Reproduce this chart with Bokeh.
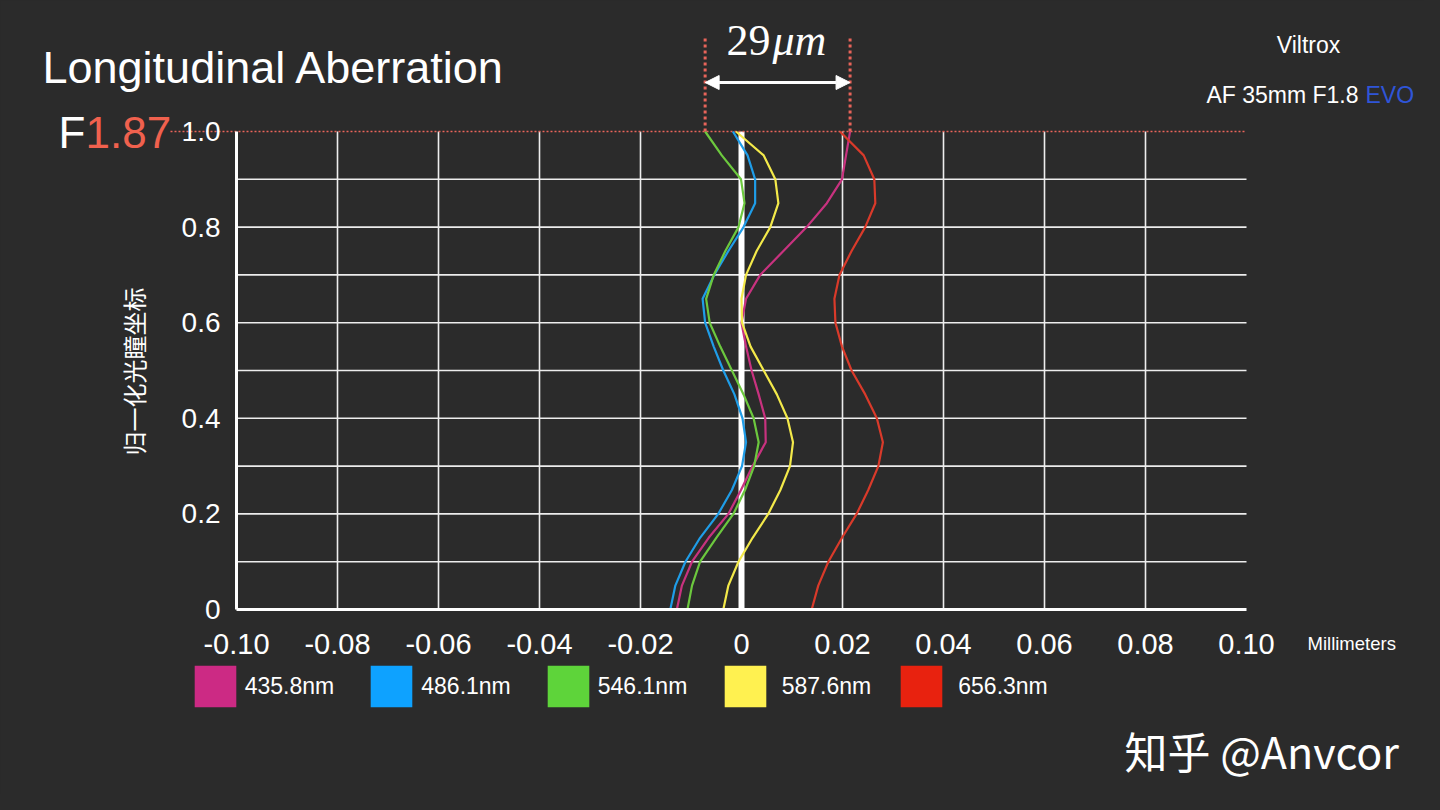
from bokeh.plotting import figure
from bokeh.models import (Range1d, FixedTicker, Label, Arrow, NormalHead,
                          Legend, LegendItem)
from bokeh.embed import file_html
from bokeh.resources import INLINE

# ---------------- data ----------------
pupil = [0.0, 0.05, 0.1, 0.15, 0.2, 0.25, 0.3, 0.35, 0.4, 0.45, 0.5,
         0.55, 0.6, 0.65, 0.7, 0.75, 0.8, 0.85, 0.9, 0.95, 1.0]

wavelengths = ["435.8nm", "486.1nm", "546.1nm", "587.6nm", "656.3nm"]

ab_435 = [-0.0128, -0.0118, -0.0098, -0.0065, -0.0026, -0.0001, 0.0022, 0.0048,
          0.0047, 0.0034, 0.0020, 0.0009, 0.0000, 0.0009, 0.0037, 0.0083,
          0.0129, 0.0169, 0.0199, 0.0207, 0.0215]
ab_486 = [-0.0141, -0.0131, -0.0111, -0.0082, -0.0046, -0.0019, 0.0001, 0.0009,
          0.0002, -0.0014, -0.0036, -0.0055, -0.0072, -0.0077, -0.0054, -0.0026,
          0.0004, 0.0027, 0.0027, 0.0012, -0.0017]
ab_546 = [-0.0107, -0.0098, -0.0082, -0.0050, -0.0016, 0.0007, 0.0025, 0.0034,
          0.0024, 0.0004, -0.0019, -0.0042, -0.0063, -0.0070, -0.0055, -0.0032,
          -0.0006, 0.0006, -0.0001, -0.0039, -0.0072]
ab_587 = [-0.0036, -0.0026, -0.0006, 0.0022, 0.0053, 0.0077, 0.0096, 0.0102,
          0.0091, 0.0070, 0.0044, 0.0018, 0.0001, 0.0000, 0.0009, 0.0030,
          0.0057, 0.0073, 0.0067, 0.0044, -0.0011]
ab_656 = [0.0139, 0.0152, 0.0172, 0.0199, 0.0228, 0.0251, 0.0271, 0.0280,
          0.0268, 0.0245, 0.0218, 0.0199, 0.0186, 0.0184, 0.0194, 0.0218,
          0.0245, 0.0265, 0.0263, 0.0242, 0.0195]

series = [ab_435, ab_486, ab_546, ab_587, ab_656]
line_colors = ["#c8327f", "#1f9de8", "#6cc83e", "#f3e94a", "#d93a2a"]
swatch_colors = ["#cc2a84", "#0ea2ff", "#5ed43a", "#fff150", "#e8220f"]

x_ticks = [-0.1, -0.08, -0.06, -0.04, -0.02, 0.0, 0.02, 0.04, 0.06, 0.08, 0.1]
x_tick_labels = ["-0.10", "-0.08", "-0.06", "-0.04", "-0.02", "0",
                 "0.02", "0.04", "0.06", "0.08", "0.10"]
y_ticks = [0.0, 0.2, 0.4, 0.6, 0.8, 1.0]
y_tick_labels = ["0", "0.2", "0.4", "0.6", "0.8", "1.0"]
x_grid = [-0.08, -0.06, -0.04, -0.02, 0.02, 0.04, 0.06, 0.08]
y_grid = [0.1, 0.2, 0.3, 0.4, 0.5, 0.6, 0.7, 0.8, 0.9]

spread_text = "29"
spread_unit = "μm"
f_number = "1.87"

# ---------------- layout / styling ----------------
BG = "#2b2b2b"
DOT = "#e8645a"
SANS = "Liberation Sans"
NAN = float("nan")

W, H = 1424, 794
PL, PR, PT, PB = 236, 1246, 131, 609        # plot area in canvas pixels
X0, X1 = x_ticks[0], x_ticks[-1]
Y0, Y1 = y_ticks[0], y_ticks[-1]
xs = (X1 - X0) / (PR - PL)
ys = (Y1 - Y0) / (PB - PT)


def dx(px):
    return X0 + (px - PL) * xs


def dy(py):
    return Y0 + (PB - py) * ys


p = figure(width=W, height=H, x_range=Range1d(dx(0), dx(W)), y_range=Range1d(dy(H), dy(0)),
           output_backend="svg", toolbar_location=None,
           background_fill_color=BG, border_fill_color=BG, outline_line_color=None,
           min_border=0)
p.grid.visible = False

# axes drawn at fixed locations inside the canvas
p.xaxis.fixed_location = Y0
p.xaxis.bounds = (X0, X1)
p.yaxis.fixed_location = X0
p.yaxis.bounds = (Y0, Y1)
p.xaxis.ticker = FixedTicker(ticks=x_ticks)
p.xaxis.major_label_overrides = dict(zip(x_ticks, x_tick_labels))
p.yaxis.ticker = FixedTicker(ticks=y_ticks)
p.yaxis.major_label_overrides = dict(zip(y_ticks, y_tick_labels))
for ax in (p.xaxis, p.yaxis):
    ax.axis_line_color = "white"
    ax.axis_line_width = 3
    ax.major_tick_line_color = None
    ax.minor_tick_line_color = None
    ax.major_label_text_color = "white"
    ax.major_label_text_font = SANS
p.xaxis.major_label_text_font_size = "29px"
p.yaxis.major_label_text_font_size = "28px"
p.xaxis.major_label_standoff = 18
p.yaxis.major_label_standoff = 10

# grid lines
GRID = "#ededed"
p.segment(x0=x_grid, y0=[Y0] * len(x_grid), x1=x_grid, y1=[Y1] * len(x_grid),
          line_color=GRID, line_width=1.6)
p.segment(x0=[X0] * len(y_grid), y0=y_grid, x1=[X1] * len(y_grid), y1=y_grid,
          line_color=GRID, line_width=1.6)

# zero line
p.segment(x0=[0.0], y0=[Y0], x1=[0.0], y1=[Y1], line_color="white", line_width=6)

# top dotted line at pupil = 1.0
p.segment(x0=[dx(170)], y0=[Y1], x1=[X1], y1=[Y1], line_color=DOT, line_width=1.5,
          line_dash="2 2")

# curves
for vals, c in zip(series, line_colors):
    p.line(x=vals, y=pupil, line_color=c, line_width=2.2, line_join="round")

# spread markers (from the extreme values at full aperture)
tops = [s[-1] for s in series]
left_x, right_x = min(tops), max(tops)
p.segment(x0=[left_x, right_x], y0=[Y1, Y1], x1=[left_x, right_x], y1=[dy(35), dy(35)],
          line_color=DOT, line_width=3, line_dash="3 3")
p.add_layout(Arrow(start=NormalHead(size=14, fill_color="white", line_color="white"),
                   end=NormalHead(size=14, fill_color="white", line_color="white"),
                   x_start=left_x, y_start=dy(82), x_end=right_x, y_end=dy(82),
                   line_color="white", line_width=3))

# legend (swatch renderers carry no visible marks)
swatches = []
for c in swatch_colors:
    r = p.quad(left=[NAN], right=[NAN], top=[NAN], bottom=[NAN], fill_color=c, line_color=None)
    swatches.append(r)
items = [LegendItem(label=w, renderers=[r]) for w, r in zip(wavelengths, swatches)]
legend_style = dict(orientation="horizontal", glyph_width=52, glyph_height=52,
                    padding=0, margin=0, background_fill_alpha=0, border_line_alpha=0,
                    label_text_color="white", label_text_font=SANS,
                    label_text_font_size="23px")
p.add_layout(Legend(items=items[:3], location=(188.75, H - 712.25),
                    label_standoff=4, spacing=31, **legend_style))
p.add_layout(Legend(items=items[3:], location=(718.75, H - 712.25),
                    label_standoff=11, spacing=24, **legend_style))


def lab(text, px, py, size, color="white", font=SANS, align="left",
        style="normal", angle=0.0):
    p.add_layout(Label(x=px, y=H - py, x_units="screen", y_units="screen",
                       text=text, text_font=font, text_font_size=size,
                       text_color=color, text_align=align, text_baseline="middle",
                       text_font_style=style, angle=angle))


lab(spread_text, 770, 40, "44px", font="Liberation Serif", align="right")
lab(spread_unit, 772, 40, "44px", font="Liberation Serif", style="italic")

lab("Longitudinal Aberration", 42, 67, "45px")
lab("F", 58, 132, "44px")
lab(f_number, 85, 132, "44px", color="#f0614e")

lab("Viltrox", 1308, 44, "23px", align="center")
lab("AF 35mm F1.8", 1358, 94, "23px", align="right")
lab("EVO", 1365, 94, "23px", color="#2f55d8")

lab("Millimeters", 1307, 643, "18.5px")
lab("归一化光瞳坐标", 133, 371, "24px", font="Noto Sans CJK SC", align="center",
    angle=1.5707963)
lab("知乎 @Anvcor", 1124, 749, "43px", font="Noto Sans CJK SC")

html = file_html(p, INLINE)
html = html.replace("</head>", "<style>html, body { background-color: #2b2b2b; }</style></head>", 1)
open("out.html", "w").write(html)
